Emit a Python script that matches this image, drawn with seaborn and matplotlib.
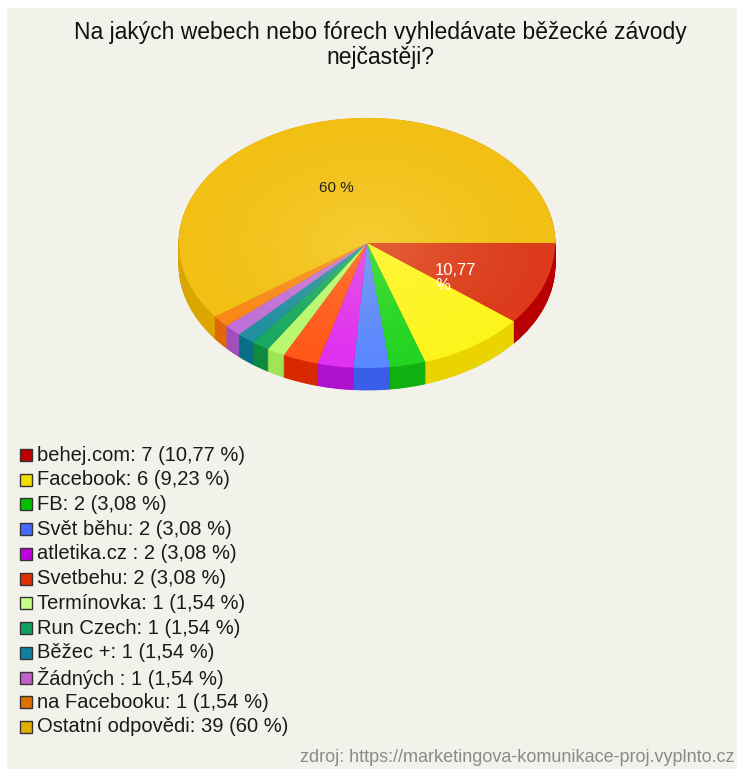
import numpy as np
import matplotlib
matplotlib.use("Agg")
import matplotlib.pyplot as plt
import seaborn as sns
from matplotlib.patches import Rectangle, Circle

sns.set_theme(style="white")
plt.rcParams['font.family'] = ['Liberation Sans', 'DejaVu Sans']

# ---- data ----
categories = ["behej.com", "Facebook", "FB", "Svět běhu", "atletika.cz ", "Svetbehu",
              "Termínovka", "Run Czech", "Běžec +", "Žádných ", "na Facebooku",
              "Ostatní odpovědi"]
counts = [7, 6, 2, 2, 2, 2, 1, 1, 1, 1, 1, 39]
percent_labels = ["10,77", "9,23", "3,08", "3,08", "3,08", "3,08",
                  "1,54", "1,54", "1,54", "1,54", "1,54", "60"]
title = "Na jakých webech nebo fórech vyhledávate běžecké závody\nnejčastěji?"
source = "zdroj: https://marketingova-komunikace-proj.vyplnto.cz"

top_colors = ["#dc3a1a", "#fdf41e", "#22d422", "#5a88ff", "#e030f0", "#ff5818",
              "#b8f870", "#18a860", "#2090a0", "#c070d8", "#f88818", "#f2c014"]
side_colors = ["#b80000", "#ead400", "#10b010", "#3a5ee8", "#b010d0", "#d82800",
               "#a0e458", "#0e8a40", "#0a6e88", "#a050b8", "#e06808", "#dca600"]
legend_colors = ["#c00000", "#f0e000", "#00c000", "#4868ff", "#c000e0", "#e03000",
                 "#c8ff88", "#10a060", "#1080a0", "#c060c8", "#e07000", "#e0b000"]

W, H = 737, 769
fig = plt.figure(figsize=(W / 100, H / 100), dpi=100)
fig.patch.set_facecolor("white")
fig.patches.append(Rectangle((7 / W, 0), 1, (H - 8) / H, transform=fig.transFigure,
                             facecolor="#f3f2ea", edgecolor="none", zorder=-5))

ax = fig.add_axes([0, 0, 1, 1])
ax.patch.set_alpha(0)
ax.set_zorder(1)

RX, RY, DEPTH = 188.0, 125.0, 22.0
S = RY / RX
cx_px, cy_px = 367.0, 243.0
cx, cy = cx_px, (H - cy_px) / S


def Y(ypx):
    return (H - ypx) / S


# side (depth) made of stacked pies
n_layers = int(DEPTH / S) + 1
for k in np.linspace(DEPTH / S, 0.5, n_layers):
    ax.pie(counts, colors=side_colors, startangle=0, counterclock=False, radius=RX,
           center=(cx, cy - k), wedgeprops=dict(linewidth=0.6), frame=False)
    for w in ax.patches[-len(counts):]:
        w.set_edgecolor(w.get_facecolor())

# top face
wedges, _ = ax.pie(counts, colors=top_colors, startangle=0, counterclock=False,
                   radius=RX, center=(cx, cy), wedgeprops=dict(linewidth=0))

# radial highlight on top face
yy, xx = np.mgrid[-1:1:300j, -1:1:300j]
r = np.sqrt(xx ** 2 + yy ** 2)
grad = np.zeros((300, 300, 4))
grad[..., 0] = 1.0
grad[..., 1] = 1.0
grad[..., 2] = 0.7
grad[..., 3] = np.clip(0.20 * (1 - r) ** 1.3, 0, 1)
im = ax.imshow(grad, extent=(cx - RX, cx + RX, cy - RX, cy + RX), zorder=5,
               interpolation="bilinear")
im.set_clip_path(Circle((cx, cy), RX, transform=ax.transData))

ax.set_aspect("auto")
ax.set_xlim(0, W)
ax.set_ylim(0, H / S)
ax.axis("off")

# slice labels
ax.text(336, Y(188), percent_labels[-1] + " %", fontsize=11, color="#222222",
        ha="center", va="center", zorder=6)
ax.text(435, Y(278), percent_labels[0] + "\n%", fontsize=12, color="white",
        ha="left", va="center", linespacing=0.95, zorder=6)

# title
fig.text(380 / W, 1 - 45 / H, title, ha="center", va="center", fontsize=16.5,
         color="#111111", linespacing=1.08)

# legend
row0, step = 455.0, (727.0 - 455.0) / 11
for i, (cat, c, p, col) in enumerate(zip(categories, counts, percent_labels, legend_colors)):
    y = row0 + i * step
    fig.patches.append(Rectangle((20 / W, 1 - (y + 6) / H), 12 / W, 12 / H,
                                 transform=fig.transFigure, facecolor=col,
                                 edgecolor="#333333", linewidth=1.0, zorder=3))
    fig.text(37 / W, 1 - y / H, f"{cat}: {c} ({p} %)", ha="left", va="center",
             fontsize=14.5, color="#1a1a1a")

fig.text(735 / W, 1 - 757 / H, source, ha="right", va="center", fontsize=13,
         color="#8a8a8a")

fig.savefig("out.png", dpi=100, facecolor=fig.get_facecolor())
